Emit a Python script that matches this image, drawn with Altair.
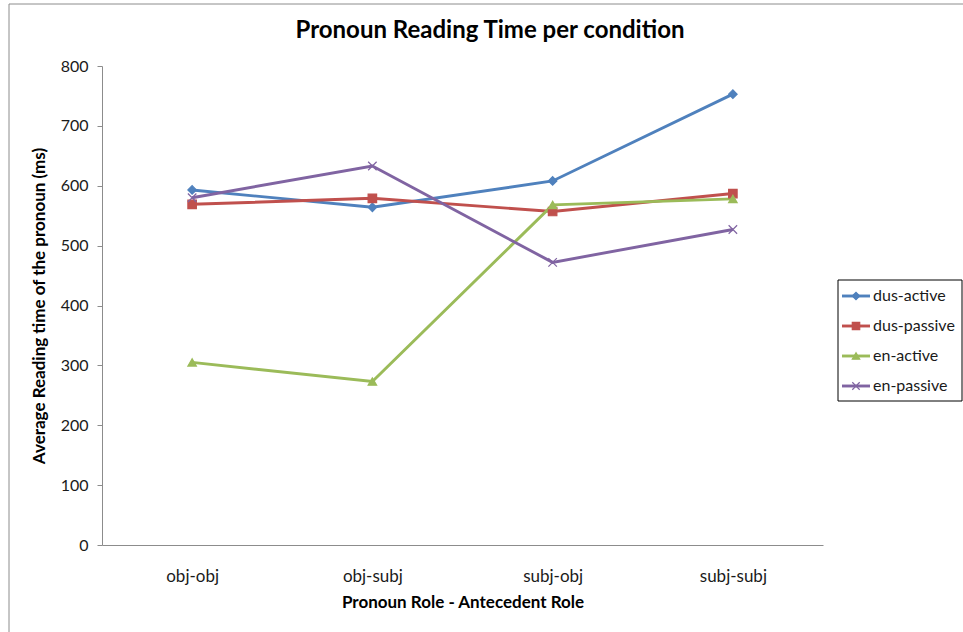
import altair as alt
import pandas as pd

# Conditions (x categories) and series
categories = ["obj-obj", "obj-subj", "subj-obj", "subj-subj"]
series = ["dus-active", "dus-passive", "en-active", "en-passive"]

# Average pronoun reading time (ms) per condition
dus_active = [593, 564, 608, 753]
dus_passive = [569, 579, 557, 587]
en_active = [305, 273, 568, 578]
en_passive = [580, 633, 472, 527]

colors = ["#4F81BD", "#C0504D", "#9BBB59", "#8064A2"]
shapes = ["diamond", "square", "triangle-up", "M-1,-1L1,1M-1,1L1,-1"]

FONT = "Lato"
TITLE = "Pronoun Reading Time per condition"

rows = []
for name, vals in zip(series, [dus_active, dus_passive, en_active, en_passive]):
    for cat, v in zip(categories, vals):
        rows.append({"role": cat, "series": name, "rt": v})
df = pd.DataFrame(rows)

legend_df = pd.DataFrame({"series": series, "idx": list(range(len(series)))})

W, H = 721, 479

color_scale = alt.Scale(domain=series, range=colors)
shape_scale = alt.Scale(domain=series, range=shapes)

x_enc = alt.X(
    "role:N",
    sort=categories,
    scale=alt.Scale(type="point", padding=0.5),
    axis=alt.Axis(
        title="Pronoun Role - Antecedent Role",
        labelAngle=0,
        ticks=False,
        labelPadding=23,
        labelFontSize=17,
        titlePadding=10,
        zindex=1,
    ),
)
y_enc = alt.Y(
    "rt:Q",
    scale=alt.Scale(domain=[0, 800], nice=False),
    axis=alt.Axis(
        title="Average Reading time of the pronoun (ms)",
        values=list(range(0, 801, 100)),
        grid=False,
        tickSize=5,
        labelPadding=9,
        labelFontSize=16,
        titlePadding=12,
        zindex=1,
    ),
)

lines = alt.Chart(df).mark_line(strokeWidth=2.9).encode(
    x=x_enc,
    y=y_enc,
    color=alt.Color("series:N", scale=color_scale, legend=None),
    detail="series:N",
)

points = alt.Chart(df).mark_point(filled=True, size=72, opacity=1, strokeWidth=1.2).encode(
    x=x_enc,
    y=y_enc,
    color=alt.Color("series:N", scale=color_scale, legend=None),
    stroke=alt.Stroke("series:N", scale=color_scale, legend=None),
    shape=alt.Shape("series:N", scale=shape_scale, legend=None),
)

plot = alt.layer(lines, points)

one = alt.Data(values=[{"k": 1}])

# outer chart frame
frame = alt.Chart(one).mark_rect(fill="transparent", stroke="#8c8c8c", strokeWidth=1).encode(
    x=alt.value(-93), x2=alt.value(880), y=alt.value(-62), y2=alt.value(580)
)

# chart title
title_txt = alt.Chart(one).mark_text(
    align="center", baseline="middle", font=FONT, fontSize=24, fontWeight="bold", color="#000000"
).encode(x=alt.value(388), y=alt.value(-35), text=alt.value(TITLE))

# legend box and entries
leg_box = alt.Chart(one).mark_rect(fill="white", stroke="#000000", strokeWidth=1).encode(
    x=alt.value(736), x2=alt.value(860), y=alt.value(214), y2=alt.value(335)
)
leg_y = alt.Y("idx:Q", scale=alt.Scale(domain=[0, 3], range=[230, 320]), axis=None)
leg_line = alt.Chart(legend_df).mark_rule(strokeWidth=2.9).encode(
    x=alt.value(740), x2=alt.value(768), y=leg_y,
    color=alt.Color("series:N", scale=color_scale, legend=None),
)
leg_pts = alt.Chart(legend_df).mark_point(filled=True, size=55, opacity=1, strokeWidth=1.2).encode(
    x=alt.value(754), y=leg_y,
    color=alt.Color("series:N", scale=color_scale, legend=None),
    stroke=alt.Stroke("series:N", scale=color_scale, legend=None),
    shape=alt.Shape("series:N", scale=shape_scale, legend=None),
)
leg_txt = alt.Chart(legend_df).mark_text(
    align="left", baseline="middle", font=FONT, fontSize=16, color="#1a1a1a"
).encode(x=alt.value(771), y=leg_y, text="series:N")

chart = (
    alt.layer(frame, title_txt, plot, leg_box, leg_line, leg_pts, leg_txt)
    .resolve_scale(y="independent")
    .properties(
        width=W,
        height=H,
        autosize=alt.AutoSizeParams(type="none"),
        padding={"left": 102, "top": 66, "right": 140, "bottom": 87},
        background="white",
    )
    .configure_view(stroke=None)
    .configure_axis(
        labelFont=FONT,
        titleFont=FONT,
        titleFontSize=17,
        titleFontWeight="bold",
        labelColor="#1a1a1a",
        titleColor="#000000",
        domainColor="#8c8c8c",
        tickColor="#8c8c8c",
        domainWidth=1,
    )
)

chart.save("out.html", embed_options={"renderer": "svg", "actions": False})
